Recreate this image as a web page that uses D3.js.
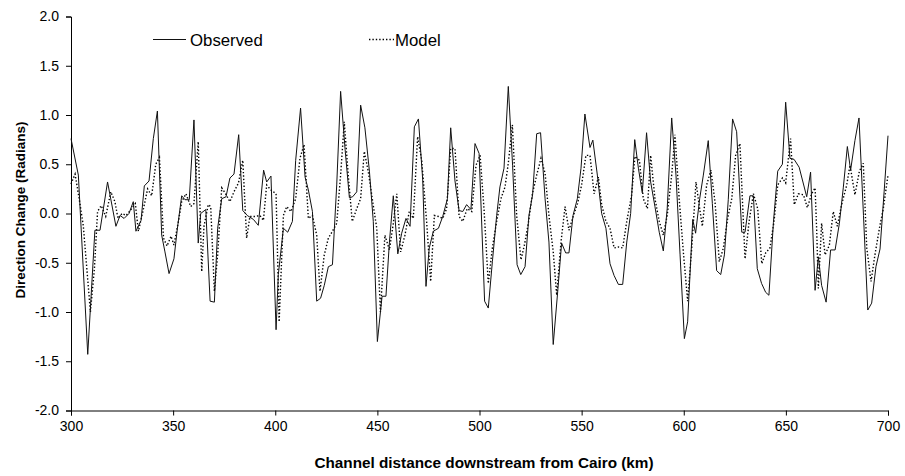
<!DOCTYPE html>
<html><head><meta charset="utf-8">
<script src="https://cdn.jsdelivr.net/npm/d3@7"></script>
<style>body{margin:0;background:#fff}svg{display:block;font-family:"Liberation Sans",Arial,sans-serif}</style>
</head><body>
<svg id="c" width="905" height="476"></svg>
<script>
const obsKm = [300,303.6,308.2,311.7,314.2,317.9,322,324,326,328.4,330.5,331.8,334.3,335.9,338.2,340.3,342.3,344.4,346,348,350.4,352.1,354.2,355.8,357.9,360.2,362.3,363.5,366,368.1,370.2,371.8,373.8,375.9,377.8,379.8,382.1,384.1,386.3,389.3,391.7,394.3,395.8,397.9,400.4,401.5,404,406.1,408.4,410,412.4,414.6,416.2,418.2,420.3,422.2,424,426,428,430.1,432,434.2,436.3,437.9,439.9,441.8,443.9,446.1,448,450,452.3,454.2,455.9,457.8,460,461.9,464,466,468.1,470.1,472.2,473.8,475.4,477.4,479.9,482,484.3,485.9,488,490,491.8,493.7,495.8,497.8,499.8,502.5,504.3,506.3,508.4,510,512,514.1,516.2,518.4,520.2,522.3,524.2,526,528,529.9,532.1,534,536.1,538.3,540.2,542.2,543.8,545.8,547.9,549.7,551.6,554.1,555.5,557.7,559.8,561.9,563.9,565.9,568,570.1,572.1,574,576,577.8,579.7,581.8,583.8,585.9,588,590,591.9,594.1,596.2,598.2,600.3,601.9,604.4,605.8,607.8,609.6,612,614,616.1,618.1,619.9,621.8,623.9,625.9,628.4,630,632.4,634.1,636,638.1,640.1,641.7,643.9,646,648.3,649.9,652,654,656.5,660.2,662.1,664.3,665.9,667.5,669.7,671.9,674.1,676.2,678.1,680.1,681.7,683.8,685.8,688,690.1,692,694.1,696.1,698.1,700];
const obsVal = [0.76,0.39,-1.43,-0.17,-0.17,0.32,-0.13,-0.02,-0.05,0.00,0.12,-0.18,-0.07,0.28,0.33,0.76,1.04,-0.22,-0.39,-0.61,-0.46,-0.15,0.18,0.14,0.14,0.95,-0.30,0.00,0.04,-0.89,-0.90,-0.15,0.15,0.17,0.36,0.40,0.80,0.03,-0.02,-0.06,-0.12,0.44,0.32,0.38,-1.18,-0.62,-0.15,-0.19,-0.08,0.54,1.07,0.37,0.24,0.02,-0.89,-0.86,-0.73,-0.54,-0.52,0.29,1.24,0.65,0.16,0.17,0.22,1.10,0.87,0.43,-0.08,-1.30,-0.84,-0.84,-0.29,0.18,-0.41,-0.20,-0.05,-0.13,0.88,0.96,0.34,-0.74,-0.35,-0.18,-0.15,-0.03,0.15,0.87,0.33,0.03,0.02,0.09,0.04,0.71,0.61,-0.89,-0.96,-0.49,-0.02,0.27,0.46,1.29,0.49,-0.52,-0.62,-0.54,-0.02,0.19,0.81,0.82,0.15,-0.29,-1.33,-0.79,-0.30,-0.40,-0.40,-0.02,0.15,0.46,1.01,0.67,0.745,0.39,0.00,-0.15,-0.51,-0.63,-0.72,-0.72,-0.29,0.00,0.75,0.46,0.21,0.82,0.32,0.07,-0.19,-0.38,0.05,0.97,0.39,-0.42,-1.27,-1.10,-0.06,-0.20,0.15,0.39,0.74,0.10,-0.58,-0.62,-0.42,0.14,0.96,0.83,-0.19,-0.19,0.18,0.18,-0.56,-0.71,-0.80,-0.83,-0.09,0.43,0.50,1.13,0.56,0.55,0.47,0.17,0.42,-0.78,-0.44,-0.73,-0.90,-0.37,-0.37,-0.10,0.26,0.68,0.44,0.74,0.97,-0.02,-0.98,-0.91,-0.54,-0.36,0.22,0.79];

const modKm = [300,302,304,306,309.5,311.5,313,314.8,317,319.5,321.5,323,325,327,329,331.5,333,335.5,337.5,339.5,341.5,343.3,345.3,347,349,350.4,352.6,354.2,356.3,358.6,360.2,362.3,364,365.1,367.2,368.4,370.2,371.8,373.8,375.4,377.8,379.8,382,384.1,386,387.6,390.1,392.5,394.2,395.8,397.8,400.4,401.9,404,405.6,407.7,410,412.1,414.1,416.2,418.2,420.3,421.9,424,426,428,430.1,432,433.8,435.8,437.7,439.9,441.8,443.6,445.6,447.5,449.7,451.5,453.7,455.9,457.8,459.5,461.4,463.5,465.6,467.6,469.7,471.7,474.1,476.1,477.9,479.9,482,483.9,485.9,488,490,491.8,494,496.2,498.3,500.3,502.2,504.3,506.3,508.4,510.5,512.5,514.1,516.1,518.2,520.3,522,523.9,525.9,528,530.1,532.1,534,536.1,537.8,539.9,541.9,543.8,546,548,550,552.1,554.1,556.1,558.2,559.8,561.9,563.9,565.9,568,570.1,572.1,574.5,576.1,578.3,580.2,582.2,583.8,585.9,588,590,591.9,594.1,595.7,597.8,599.8,601.9,603.9,606,607.5,609.1,611.2,613.3,615.3,617.4,619.4,621.5,623.5,625.4,627.5,630,632,634.1,636.2,638.2,640.1,642.2,644.2,646,648.3,649.9,652.3,654.1,656.1,658.6,660.5,662.6,664.3,665.1,665.9,667.5,669.2,671.3,673.2,675.2,677.3,679.8,681.4,683.8,686,687.9,689.6,691.7,693.6,695.8,697.7,700];
const modVal = [0.30,0.40,0.15,-0.12,-1.00,-0.55,0.02,0.08,-0.03,0.22,0.12,-0.05,0.00,-0.02,0.03,0.10,-0.18,0.05,0.25,0.18,0.50,0.57,-0.25,-0.33,-0.23,-0.32,-0.08,0.12,0.20,0.07,0.10,0.73,-0.59,-0.13,0.09,0.07,-0.79,-0.42,0.26,0.21,0.12,0.22,0.31,0.54,-0.25,-0.03,-0.03,-0.02,-0.07,0.29,0.24,0.20,-1.10,-0.02,0.07,0.02,0.15,0.56,0.70,-0.05,-0.02,-0.22,-0.79,-0.42,-0.25,-0.18,-0.10,0.39,0.93,0.37,-0.08,0.05,0.15,0.63,0.42,0.15,-0.15,-1.00,-0.22,-0.37,-0.10,0.20,-0.39,-0.22,0.02,-0.05,0.78,0.54,-0.08,-0.69,-0.02,-0.03,-0.05,0.05,0.66,0.66,-0.03,-0.08,0.05,0.02,0.49,0.59,0.05,-0.71,-0.35,-0.08,0.15,0.27,0.51,0.90,-0.02,-0.47,-0.32,-0.10,0.20,0.39,0.56,0.41,-0.02,-0.39,-0.83,-0.29,0.07,-0.17,-0.02,0.10,0.29,0.59,0.59,0.20,0.37,0.09,-0.08,-0.15,-0.35,-0.34,-0.35,-0.08,0.19,0.58,0.54,0.15,0.05,0.59,0.15,-0.08,-0.22,-0.02,0.39,0.80,0.14,-0.39,-0.89,-0.35,0.32,0.09,-0.13,0.29,0.44,0.12,-0.49,-0.35,-0.05,0.15,0.59,0.71,-0.46,-0.08,0.20,0.05,-0.51,-0.40,-0.35,-0.08,0.29,0.36,0.31,0.76,0.09,0.20,0.19,0.06,0.20,0.26,-0.18,-0.76,-0.10,-0.42,-0.32,0.02,-0.13,0.09,0.29,0.49,0.19,0.43,0.51,-0.35,-0.69,-0.42,-0.15,0.05,0.39];

const xTicks = [300,350,400,450,500,550,600,650,700];
const yTicks = [-2.0,-1.5,-1.0,-0.5,0.0,0.5,1.0,1.5,2.0];
const seriesNames = ["Observed","Model"];
const xTitle = "Channel distance downstream from Cairo (km)";
const yTitle = "Direction Change (Radians)";

const svg = d3.select("#c");
const m = {l:71, t:16.5, r:17, b:65.5};
const W = 905, H = 476;
const x = d3.scaleLinear().domain([300,700]).range([m.l, W - m.r]);
const y = d3.scaleLinear().domain([-2,2]).range([H - m.b, m.t]);
const fmt = v => (v < 0 ? "-" : "") + Math.abs(v).toFixed(1);

const gx = svg.append("g").attr("transform", `translate(0,${H - m.b})`)
  .call(d3.axisBottom(x).tickValues(xTicks).tickSize(5).tickPadding(6).tickFormat(d3.format("d")));
const gy = svg.append("g").attr("transform", `translate(${m.l},0)`)
  .call(d3.axisLeft(y).tickValues(yTicks).tickSize(5).tickPadding(7).tickFormat(fmt));
[gx, gy].forEach(g => {
  g.select(".domain").attr("stroke", "#000").attr("stroke-width", 1);
  g.selectAll(".tick line").attr("stroke", "#000");
  g.selectAll("text").attr("font-size", 14).attr("fill", "#000").attr("font-family", "Liberation Sans, Arial, sans-serif");
});

const obs = obsKm.map((k, i) => [k, obsVal[i]]);
const mod = modKm.map((k, i) => [k, modVal[i]]);
const line = d3.line().x(d => x(d[0])).y(d => y(d[1]));

svg.append("path").datum(mod).attr("d", line).attr("fill", "none")
  .attr("stroke", "#000").attr("stroke-width", 1.4).attr("stroke-dasharray", "1.4,2");
svg.append("path").datum(obs).attr("d", line).attr("fill", "none")
  .attr("stroke", "#111").attr("stroke-width", 1);

// legend
const lg = svg.append("g");
lg.append("line").attr("x1", 153).attr("x2", 186).attr("y1", 39.5).attr("y2", 39.5)
  .attr("stroke", "#111").attr("stroke-width", 1);
lg.append("text").attr("x", 190).attr("y", 45.5).attr("font-size", 16.8).text(seriesNames[0]);
lg.append("line").attr("x1", 369).attr("x2", 394).attr("y1", 39.5).attr("y2", 39.5)
  .attr("stroke", "#000").attr("stroke-width", 1.4).attr("stroke-dasharray", "1.4,2");
lg.append("text").attr("x", 395).attr("y", 45.5).attr("font-size", 16.8).text(seriesNames[1]);

svg.append("text").attr("x", 484).attr("y", 468).attr("text-anchor", "middle")
  .attr("font-size", 15.3).attr("font-weight", "bold").text(xTitle);
svg.append("text").attr("transform", `translate(24.5,210) rotate(-90)`)
  .attr("text-anchor", "middle").attr("font-size", 13.5).attr("font-weight", "bold").text(yTitle);
</script>
</body></html>
